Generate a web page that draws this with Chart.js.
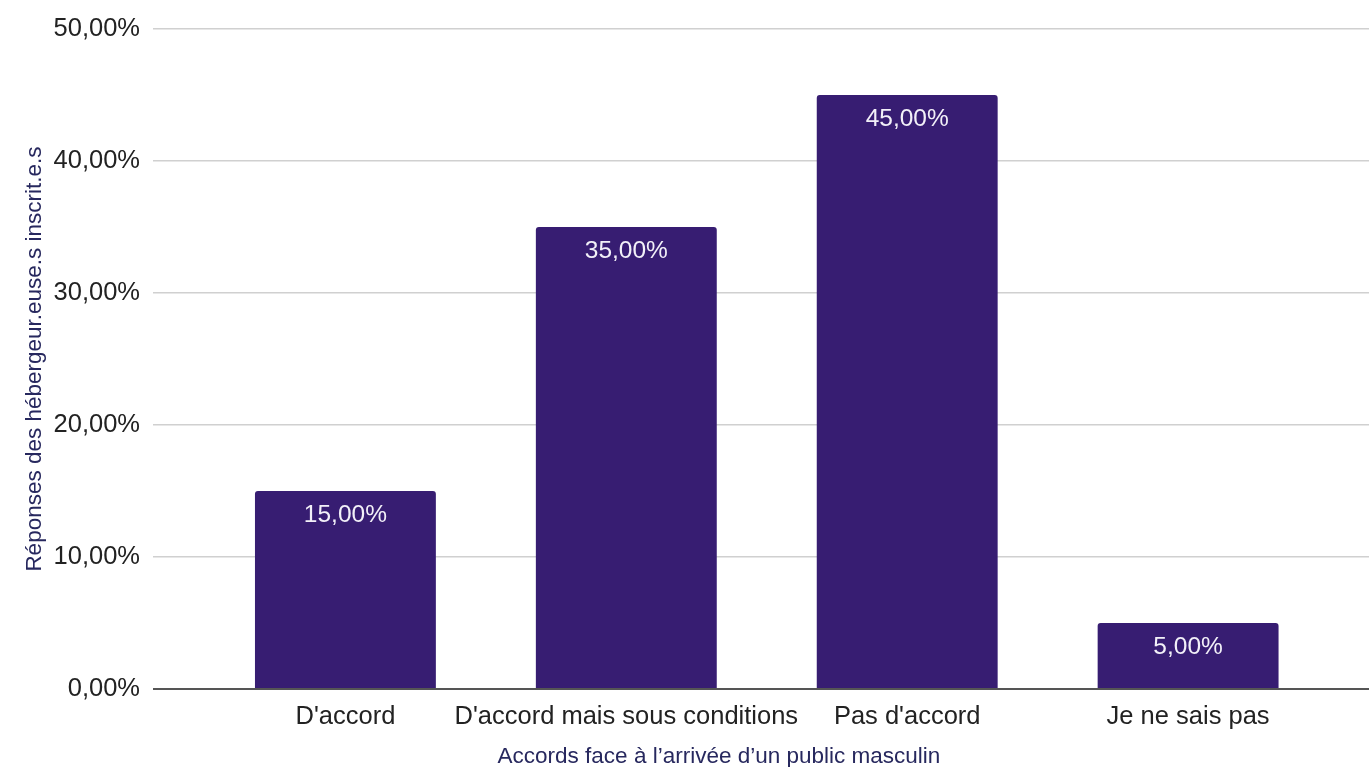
<!DOCTYPE html>
<html>
<head>
<meta charset="utf-8">
<script src="https://cdn.jsdelivr.net/npm/chart.js@4/dist/chart.umd.min.js"></script>
<style>
html,body{margin:0;padding:0;background:#fff;}
#wrap{width:1369px;height:767px;position:relative;}
</style>
</head>
<body>
<div id="wrap"><canvas id="c"></canvas></div>
<script>
const categories = ["D'accord", "D'accord mais sous conditions", "Pas d'accord", "Je ne sais pas"];
const values = [15, 35, 45, 5];
const yTicks = [0, 10, 20, 30, 40, 50];
const xTitle = "Accords face à l’arrivée d’un public masculin";
const yTitle = "Réponses des hébergeur.euse.s inscrit.e.s";

const fmt = v => v.toFixed(2).replace('.', ',') + '%';
const FONT = "'Liberation Sans', Arial, Helvetica, sans-serif";

const labelPlugin = {
  id: 'valueLabels',
  afterDatasetsDraw(chart) {
    const ctx = chart.ctx;
    ctx.save();
    ctx.font = "24.5px " + FONT;
    ctx.fillStyle = '#f2f0f8';
    ctx.textAlign = 'center';
    ctx.textBaseline = 'middle';
    chart.getDatasetMeta(0).data.forEach((bar, i) => {
      ctx.fillText(fmt(values[i]), bar.x, bar.y + 24);
    });
    ctx.restore();
  }
};

// x-axis title, centred as in the original (left of the plot-area centre)
const xTitlePlugin = {
  id: 'xTitle',
  afterDraw(chart) {
    const ctx = chart.ctx;
    const a = chart.chartArea;
    ctx.save();
    ctx.font = "22.5px " + FONT;
    ctx.fillStyle = '#27285e';
    ctx.textAlign = 'center';
    ctx.textBaseline = 'middle';
    ctx.fillText(xTitle, a.left + a.width * 0.4654, a.bottom + 68);
    ctx.restore();
  }
};

new Chart(document.getElementById('c'), {
  type: 'bar',
  data: {
    datasets: [{
      data: values.map((v, i) => ({x: i, y: v})),
      backgroundColor: '#371d72',
      borderRadius: {topLeft: 3, topRight: 3},
      borderSkipped: 'bottom',
      categoryPercentage: 0.8,
      barPercentage: 0.805
    }]
  },
  options: {
    responsive: true,
    maintainAspectRatio: false,
    animation: false,
    layout: {padding: {top: 29, left: 21, right: 0, bottom: 0}},
    plugins: {legend: {display: false}, tooltip: {enabled: false}},
    scales: {
      x: {
        type: 'linear',
        offset: false,
        min: -0.685,
        max: 3.644,
        afterBuildTicks: s => { s.ticks = categories.map((_, i) => ({value: i})); },
        afterFit: s => { s.height = 78; },
        grid: {display: false, drawTicks: false, offset: false},
        border: {display: false},
        ticks: {
          autoSkip: false,
          maxRotation: 0,
          padding: 13,
          color: '#222',
          font: {family: FONT, size: 25.5},
          callback: v => categories[v] ?? ''
        },
        title: {display: false}
      },
      y: {
        min: 0,
        max: 50,
        afterBuildTicks: s => { s.ticks = yTicks.map(v => ({value: v})); },
        afterFit: s => { s.width = 132; },
        grid: {
          drawTicks: false,
          color: ctx => ctx.tick && ctx.tick.value === 0 ? '#555' : '#d0d0d0',
          lineWidth: ctx => ctx.tick && ctx.tick.value === 0 ? 2 : 1.5
        },
        border: {display: false},
        ticks: {
          padding: 13,
          color: '#222',
          font: {family: FONT, size: 25.5},
          callback: v => fmt(v)
        },
        title: {
          display: true,
          text: yTitle,
          color: '#27285e',
          font: {family: FONT, size: 22.5},
          padding: {top: 0, bottom: 0}
        }
      }
    }
  },
  plugins: [labelPlugin, xTitlePlugin]
});
</script>
</body>
</html>
